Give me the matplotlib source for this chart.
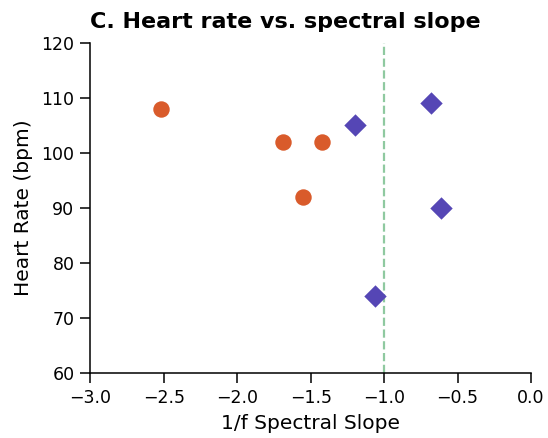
import matplotlib
matplotlib.use("Agg")
import matplotlib.pyplot as plt

# spectral slope vs heart rate, two groups
slope_a = [-2.52, -1.69, -1.42, -1.55]
hr_a = [108, 102, 102, 92]
slope_b = [-1.20, -0.68, -0.61, -1.06]
hr_b = [105, 109, 90, 74]

xticks = [-3.0, -2.5, -2.0, -1.5, -1.0, -0.5, 0.0]
yticks = [60, 70, 80, 90, 100, 110, 120]

fig, ax = plt.subplots(figsize=(5.48, 4.38), dpi=100)

ax.scatter(slope_a, hr_a, s=140, marker='o', color='#D95B2B', linewidths=0, zorder=3)
ax.scatter(slope_b, hr_b, s=130, marker='D', color='#5546B5', linewidths=0, zorder=3)
ax.axvline(-1.0, color='#8FC9A0', linestyle='--', linewidth=1.6, zorder=2)

ax.set_xlim(-3.0, 0.0)
ax.set_ylim(60, 120)
ax.set_xticks(xticks)
ax.set_xticklabels(['\u22123.0', '\u22122.5', '\u22122.0', '\u22121.5', '\u22121.0', '\u22120.5', '0.0'])
ax.set_yticks(yticks)
ax.tick_params(labelsize=12.5, length=7, width=1.1, pad=4.5)

ax.set_xlabel("1/f Spectral Slope", fontsize=14.5, labelpad=5)
ax.set_ylabel("Heart Rate (bpm)", fontsize=14.5, labelpad=6)
ax.set_title("C. Heart rate vs. spectral slope", fontsize=16, fontweight='bold', loc='left', pad=11)

ax.spines['top'].set_visible(False)
ax.spines['right'].set_visible(False)
for side in ['left', 'bottom']:
    ax.spines[side].set_linewidth(1.1)

fig.subplots_adjust(left=0.165, right=0.969, top=0.902, bottom=0.148)
fig.savefig("out.png", dpi=100)
